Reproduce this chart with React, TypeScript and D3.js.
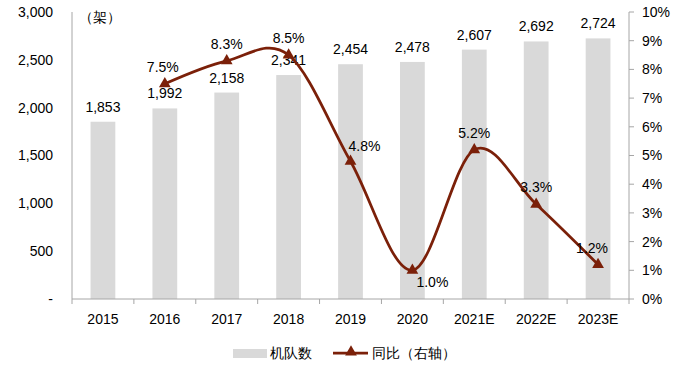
import React from "react";
import * as d3 from "d3";

const WIDTH = 698;
const HEIGHT = 372;

const years = ["2015", "2016", "2017", "2018", "2019", "2020", "2021E", "2022E", "2023E"];
const fleet = [1853, 1992, 2158, 2341, 2454, 2478, 2607, 2692, 2724];
const growth: (number | null)[] = [null, 7.5, 8.3, 8.5, 4.8, 1.0, 5.2, 3.3, 1.2];
const leftTicks = [0, 500, 1000, 1500, 2000, 2500, 3000];
const rightTicks = [0, 1, 2, 3, 4, 5, 6, 7, 8, 9, 10];

const BAR = "#d9d9d9";
const LINE = "#7b2009";
const FONT = "'Liberation Sans', Arial, sans-serif";

export default function App() {
  const margin = { top: 12, right: 69, bottom: 73, left: 72 };
  const w = WIDTH - margin.left - margin.right;
  const h = HEIGHT - margin.top - margin.bottom;

  const x = d3.scaleBand().domain(years).range([0, w]).paddingInner(0.6).paddingOuter(0.3);
  const xc = (d: string) => (x(d) as number) + x.bandwidth() / 2;
  const step = w / years.length;
  const y = d3.scaleLinear().domain([0, 3000]).range([h, 0]);
  const y2 = d3.scaleLinear().domain([0, 10]).range([h, 0]);

  const pts = years
    .map((d, i) => ({ d, v: growth[i] }))
    .filter((p) => p.v !== null) as { d: string; v: number }[];

  const line = d3
    .line<{ d: string; v: number }>()
    .x((p) => xc(p.d))
    .y((p) => y2(p.v))
    .curve(d3.curveCatmullRom.alpha(0));

  // label nudges for the growth labels (dx, dy from the point)
  const nudge = (d: string): [number, number] => {
    if (d === "2016") return [-2, -17];
    if (d === "2019") return [14, -15];
    if (d === "2020") return [20, 12];
    if (d === "2023E") return [-6, -16];
    return [0, -17];
  };

  const tri = d3.symbol().type(d3.symbolTriangle).size(60)();

  return (
    <svg width={WIDTH} height={HEIGHT} style={{ position: "absolute", left: 0, top: 0 }}>
      <g transform={`translate(${margin.left},${margin.top})`} fontFamily={FONT} fontSize={14} fill="#000">
        {years.map((d, i) => (
          <rect key={d} x={x(d)} y={y(fleet[i])} width={x.bandwidth()} height={h - y(fleet[i])} fill={BAR} />
        ))}
        {years.map((d, i) => (
          <text key={d} x={xc(d)} y={y(fleet[i]) - 10} textAnchor="middle">
            {d3.format(",")(fleet[i])}
          </text>
        ))}

        {/* left axis */}
        <line x1={0} x2={0} y1={0} y2={h} stroke="#a6a6a6" />
        {leftTicks.map((t) => (
          <text key={t} x={-19} y={y(t)} dy="0.35em" textAnchor="end">
            {t === 0 ? "-" : d3.format(",")(t)}
          </text>
        ))}
        <text x={7} y={5} dy="0.35em">（架）</text>

        {/* bottom axis */}
        <line x1={0} x2={w} y1={h} y2={h} stroke="#a6a6a6" />
        {d3.range(years.length + 1).map((i) => (
          <line key={i} x1={i * step} x2={i * step} y1={h} y2={h + 5} stroke="#a6a6a6" />
        ))}
        {years.map((d) => (
          <text key={d} x={xc(d)} y={h + 20} dy="0.35em" textAnchor="middle">
            {d}
          </text>
        ))}

        {/* right axis */}
        <line x1={w} x2={w} y1={0} y2={h} stroke="#a6a6a6" />
        {rightTicks.map((t) => (
          <g key={t}>
            <line x1={w} x2={w + 5} y1={y2(t)} y2={y2(t)} stroke="#a6a6a6" />
            <text x={w + 13} y={y2(t)} dy="0.35em">
              {t}%
            </text>
          </g>
        ))}

        {/* growth line */}
        <path d={line(pts) ?? ""} fill="none" stroke={LINE} strokeWidth={2.75} />
        {pts.map((p) => (
          <path key={p.d} d={tri ?? ""} transform={`translate(${xc(p.d)},${y2(p.v)})`} fill={LINE} />
        ))}
        {pts.map((p) => {
          const [dx, dy] = nudge(p.d);
          return (
            <text key={p.d} x={xc(p.d) + dx} y={y2(p.v) + dy} dy="0.35em" textAnchor="middle">
              {p.v.toFixed(1)}%
            </text>
          );
        })}
      </g>

      {/* legend */}
      <g fontFamily={FONT} fontSize={14}>
        <rect x={233} y={349} width={34} height={9} fill={BAR} />
        <text x={270} y={353} dy="0.35em">机队数</text>
        <line x1={333} x2={368} y1={353} y2={353} stroke={LINE} strokeWidth={2.75} />
        <path d={tri ?? ""} transform="translate(351,352)" fill={LINE} />
        <text x={372} y={353} dy="0.35em">同比（右轴）</text>
      </g>
    </svg>
  );
}
